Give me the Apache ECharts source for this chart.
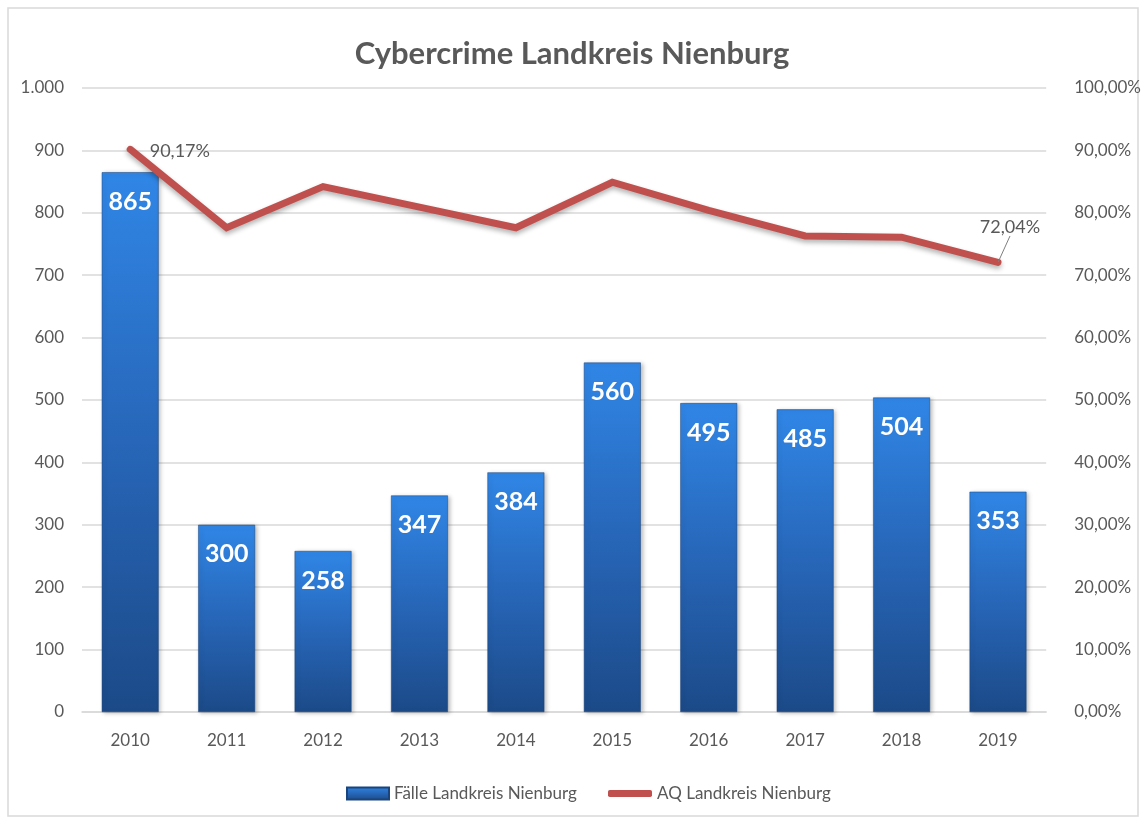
<!DOCTYPE html>
<html>
<head>
<meta charset="utf-8">
<title>Cybercrime Landkreis Nienburg</title>
<script src="https://cdn.jsdelivr.net/npm/echarts@6/dist/echarts.min.js"></script>
<style>
  html, body { margin: 0; padding: 0; background: #fff; }
  #main { width: 1144px; height: 823px; }
</style>
</head>
<body>
<div id="main"></div>
<script>
// Daten
var years = ['2010', '2011', '2012', '2013', '2014', '2015', '2016', '2017', '2018', '2019']
var faelle = [865, 300, 258, 347, 384, 560, 495, 485, 504, 353]
var aq = [90.17, 77.6, 84.2, 80.9, 77.6, 84.9, 80.4, 76.3, 76.1, 72.04]
var leftTicks = [0, 100, 200, 300, 400, 500, 600, 700, 800, 900, 1000]

var fontFam = 'Lato, "Open Sans", sans-serif'
var grey = '#595959'
var red = '#c0504d'
var lastIdx = aq.length - 1

function fmtPct (v) {
  return v.toFixed(2).replace('.', ',') + '%'
}

// nur erster und letzter Punkt bekommen ein Label
var aqData = aq.map(function (v, i) {
  var item = { value: v }
  if (i === 0) {
    item.label = { show: true, position: 'right', distance: 5 }
  } else if (i === lastIdx) {
    item.label = { show: true, position: 'top', distance: 6 }
    item.labelLine = { show: true }
  }
  return item
})

var barGradient = new echarts.graphic.LinearGradient(0, 0, 0, 1, [
  { offset: 0, color: '#3086e6' },
  { offset: 0.5, color: '#2766b8' },
  { offset: 1, color: '#1c4a88' }
])

var myChart = echarts.init(document.getElementById('main'))

var legendText = { fontFamily: fontFam, fontSize: 17, color: grey }

var options = {
  backgroundColor: '#fff',
  animation: false,
  textStyle: { fontFamily: fontFam },
  title: {
    text: 'Cybercrime Landkreis Nienburg',
    left: 'center',
    top: 33,
    textStyle: { fontFamily: fontFam, fontSize: 31, fontWeight: 'bold', color: grey }
  },
  graphic: [{
    type: 'rect',
    shape: { x: 8, y: 8, width: 1130, height: 808 },
    style: { fill: 'none', stroke: '#d9d9d9', lineWidth: 1.5 },
    silent: true
  }],
  legend: [
    {
      left: 341,
      top: 780,
      itemWidth: 42,
      itemHeight: 12,
      itemGap: 4,
      textStyle: legendText,
      data: [{ name: 'Fälle Landkreis Nienburg', icon: 'rect' }]
    },
    {
      left: 603,
      top: 780,
      itemWidth: 44,
      itemHeight: 7,
      textStyle: legendText,
      data: [{ name: 'AQ Landkreis Nienburg', icon: 'roundRect', itemStyle: { color: red } }]
    }
  ],
  grid: {
    left: 82,
    right: 87,
    top: 88,
    bottom: 111
  },
  xAxis: [{
    type: 'category',
    data: years,
    axisTick: { show: false },
    axisLine: { lineStyle: { color: '#d9d9d9', width: 1.5 } },
    axisLabel: { color: grey, fontSize: 17, margin: 20, fontFamily: fontFam }
  }],
  yAxis: [
    {
      type: 'value',
      min: leftTicks[0],
      max: leftTicks[leftTicks.length - 1],
      interval: 100,
      axisLine: { show: false },
      axisTick: { show: false },
      splitLine: { lineStyle: { color: '#d9d9d9', width: 1.5 } },
      axisLabel: {
        color: grey,
        fontSize: 17,
        margin: 18,
        fontFamily: fontFam,
        formatter: function (v) {
          return v >= 1000 ? '1.' + String(v).slice(1) : String(v)
        }
      }
    },
    {
      type: 'value',
      min: 0,
      max: 100,
      interval: 10,
      axisLine: { show: false },
      axisTick: { show: false },
      splitLine: { show: false },
      axisLabel: {
        color: grey,
        fontSize: 17,
        margin: 28,
        fontFamily: fontFam,
        formatter: fmtPct
      }
    }
  ],
  series: [
    {
      name: 'Fälle Landkreis Nienburg',
      type: 'bar',
      barWidth: '59%',
      data: faelle,
      itemStyle: {
        color: barGradient,
        borderColor: '#1a447d',
        borderWidth: 0.5,
        shadowColor: 'rgba(0,0,0,0.25)',
        shadowBlur: 4,
        shadowOffsetX: 2,
        shadowOffsetY: 1
      },
      label: {
        show: true,
        position: 'insideTop',
        distance: 17,
        color: '#fff',
        fontSize: 25,
        fontWeight: 'bold',
        fontFamily: fontFam
      }
    },
    {
      name: 'AQ Landkreis Nienburg',
      type: 'line',
      yAxisIndex: 1,
      data: aqData,
      symbol: 'circle',
      symbolSize: 1,
      showSymbol: true,
      itemStyle: { color: 'rgba(192,80,77,0)' },
      color: red,
      lineStyle: {
        color: red,
        width: 7,
        cap: 'round',
        join: 'miter',
        shadowColor: 'rgba(0,0,0,0.3)',
        shadowBlur: 5,
        shadowOffsetY: 3
      },
      label: {
        show: false,
        color: grey,
        fontSize: 18,
        fontFamily: fontFam,
        formatter: function (p) { return fmtPct(p.value) }
      },
      labelLine: { show: false, lineStyle: { color: '#7f7f7f', width: 1 } },
      labelLayout: function (params) {
        if (params.dataIndex === 0) {
          return { dx: 14, dy: 2 }
        }
        if (params.dataIndex === lastIdx) {
          return { dx: 12, dy: -20 }
        }
        return {}
      },
      z: 5
    }
  ]
}

myChart.setOption(options)
</script>
</body>
</html>
